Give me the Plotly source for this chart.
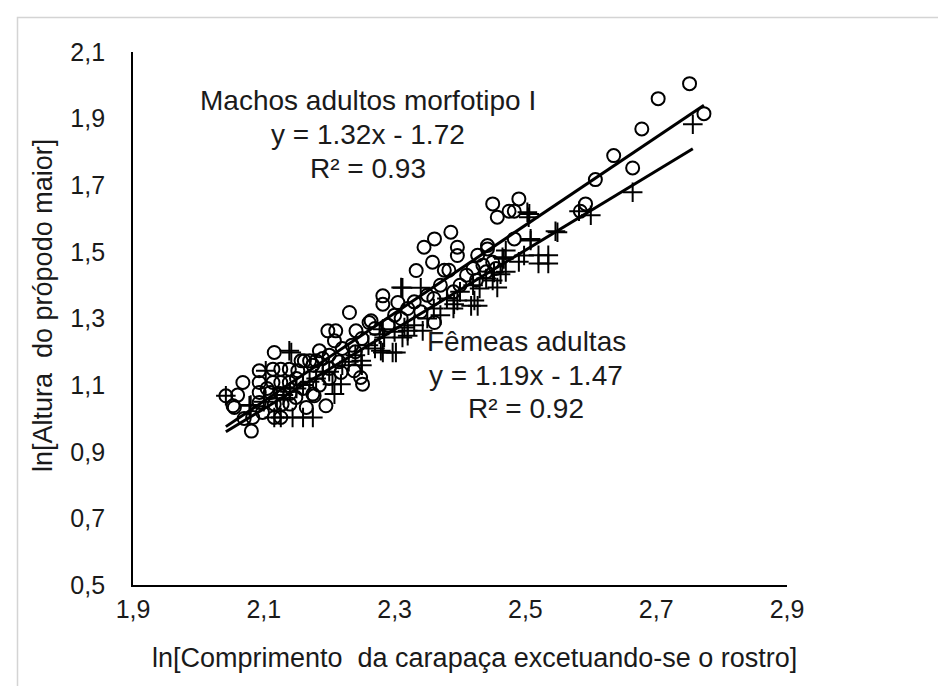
import plotly.graph_objects as go

# ---------------- data ----------------
machos_x = [2.751, 2.703, 2.773, 2.678, 2.635, 2.664, 2.607, 2.592, 2.584,
            2.450, 2.490, 2.457, 2.475, 2.483, 2.442, 2.450, 2.483, 2.386, 2.396, 2.396,
            2.442, 2.427, 2.361, 2.345, 2.358, 2.333, 2.376, 2.383, 2.282, 2.305,
            2.282, 2.361, 2.231, 2.198, 2.210, 2.208, 2.241, 2.261, 2.185, 2.162,
            2.264, 2.116,
            2.410, 2.420, 2.435, 2.400, 2.425, 2.440, 2.455, 2.370, 2.390, 2.350,
            2.330, 2.320, 2.300, 2.340, 2.360, 2.310, 2.290, 2.270, 2.250, 2.235,
            2.220, 2.200, 2.190, 2.215, 2.175, 2.240,
            2.042, 2.055, 2.081, 2.068, 2.093, 2.093, 2.093, 2.093, 2.098, 2.114,
            2.126, 2.139, 2.152, 2.114, 2.126, 2.139, 2.110, 2.125, 2.140, 2.116,
            2.128, 2.140, 2.116, 2.126, 2.157, 2.170, 2.180, 2.165, 2.175, 2.149,
            2.083, 2.251, 2.218, 2.195, 2.053, 2.177, 2.238, 2.248, 2.200, 2.185,
            2.160, 2.150, 2.200, 2.060, 2.070, 2.105]
machos_y = [2.005, 1.960, 1.915, 1.869, 1.789, 1.752, 1.717, 1.644, 1.622,
            1.644, 1.659, 1.604, 1.622, 1.622, 1.509, 1.469, 1.539, 1.559, 1.514, 1.489,
            1.519, 1.490, 1.539, 1.514, 1.469, 1.444, 1.445, 1.445, 1.368, 1.348,
            1.343, 1.288, 1.318, 1.263, 1.263, 1.233, 1.263, 1.288, 1.203, 1.173,
            1.293, 1.198,
            1.430, 1.450, 1.460, 1.400, 1.415, 1.440, 1.450, 1.400, 1.380, 1.370,
            1.350, 1.330, 1.310, 1.320, 1.360, 1.300, 1.280, 1.270, 1.240, 1.220,
            1.210, 1.190, 1.180, 1.170, 1.160, 1.200,
            1.068, 1.033, 0.962, 1.108, 1.143, 1.108, 1.078, 1.048, 1.018, 1.148,
            1.148, 1.148, 1.143, 1.108, 1.108, 1.108, 1.078, 1.075, 1.075, 1.043,
            1.043, 1.043, 1.003, 1.003, 1.173, 1.173, 1.173, 1.033, 1.073, 1.063,
            1.003, 1.103, 1.138, 1.038, 1.038, 1.068, 1.143, 1.123, 1.120, 1.100,
            1.090, 1.120, 1.150, 1.070, 1.000, 1.090]

femeas_x = [2.756, 2.664, 2.582, 2.546, 2.506, 2.508, 2.467, 2.520, 2.535, 2.520,
            2.535, 2.503, 2.505, 2.549, 2.508, 2.470, 2.498, 2.465, 2.450, 2.457,
            2.462, 2.452, 2.417, 2.427, 2.391, 2.396, 2.422, 2.312, 2.340, 2.310,
            2.282, 2.284, 2.282, 2.302, 2.312, 2.315, 2.320, 2.320, 2.343, 2.297,
            2.142, 2.103, 2.144, 2.160, 2.175, 2.042, 2.126, 2.116, 2.139, 2.205,
            2.208, 2.218, 2.279, 2.277, 2.249, 2.078,
            2.360, 2.380, 2.400, 2.420, 2.440, 2.370, 2.350, 2.330, 2.300, 2.260,
            2.240, 2.220, 2.200, 2.180, 2.160, 2.140, 2.120, 2.100, 2.080, 2.230,
            2.190, 2.170, 2.150, 2.130, 2.250, 2.270, 2.390, 2.430, 2.470, 2.490,
            2.600]
femeas_y = [1.883, 1.679, 1.622, 1.562, 1.614, 1.534, 1.479, 1.490, 1.490, 1.465,
            1.465, 1.619, 1.604, 1.559, 1.539, 1.504, 1.489, 1.484, 1.414, 1.393,
            1.433, 1.438, 1.338, 1.338, 1.343, 1.354, 1.354, 1.392, 1.392, 1.393,
            1.268, 1.243, 1.198, 1.198, 1.243, 1.273, 1.263, 1.248, 1.263, 1.198,
            1.198, 1.143, 1.003, 1.003, 1.003, 1.068, 1.003, 1.003, 1.203, 1.103,
            1.073, 1.103, 1.203, 1.253, 1.173, 1.038,
            1.330, 1.360, 1.380, 1.400, 1.420, 1.310, 1.300, 1.280, 1.260, 1.220,
            1.190, 1.160, 1.140, 1.120, 1.100, 1.080, 1.060, 1.050, 1.040, 1.170,
            1.140, 1.110, 1.090, 1.070, 1.160, 1.210, 1.330, 1.390, 1.440, 1.470,
            1.610]

# regression equations shown on the chart
machos_fit = (1.32, -1.72)
femeas_fit = (1.19, -1.47)

x_ticks = [1.9, 2.1, 2.3, 2.5, 2.7, 2.9]
x_ticktext = ["1,9", "2,1", "2,3", "2,5", "2,7", "2,9"]
y_ticks = [0.5, 0.7, 0.9, 1.1, 1.3, 1.5, 1.7, 1.9, 2.1]
y_ticktext = ["0,5", "0,7", "0,9", "1,1", "1,3", "1,5", "1,7", "1,9", "2,1"]

machos_label = ["Machos adultos morfotipo I", "y = 1.32x - 1.72", "R² = 0.93"]
femeas_label = ["Fêmeas adultas", "y = 1.19x - 1.47", "R² = 0.92"]
x_title = "ln[Comprimento\u00a0 da carapaça excetuando-se o rostro]"
y_title = "ln[Altura\u00a0 do própodo maior]"

# ---------------- figure ----------------
W, H = 946, 686
L, R, T, B = 125, 779, 44, 577
FONT = "Liberation Sans, Arial, sans-serif"
TXT = "#1a1a1a"


def px(xp):
    return (xp - L) / (R - L)


def py(yp):
    return (B - yp) / (B - T)


def fit_line(xs, coef):
    x0, x1 = min(xs), max(xs)
    return [x0, x1], [coef[0] * x0 + coef[1], coef[0] * x1 + coef[1]]


fig = go.Figure()
fig.add_trace(go.Scatter(
    x=femeas_x, y=femeas_y, mode="markers", name="Fêmeas adultas",
    marker=dict(symbol="cross-thin-open", size=14, color="black",
                line=dict(color="black", width=2))))
fig.add_trace(go.Scatter(
    x=machos_x, y=machos_y, mode="markers", name="Machos adultos morfotipo I",
    marker=dict(symbol="circle-open", size=13, color="black",
                line=dict(color="black", width=2))))
lx, ly = fit_line(machos_x, machos_fit)
fig.add_trace(go.Scatter(x=lx, y=ly, mode="lines", line=dict(color="black", width=3),
                         showlegend=False))
lx, ly = fit_line(femeas_x, femeas_fit)
fig.add_trace(go.Scatter(x=lx, y=ly, mode="lines", line=dict(color="black", width=3),
                         showlegend=False))

ann = []
for text, yp in zip(machos_label, [92, 127, 160]):
    ann.append(dict(x=px(360), y=py(yp), xref="paper", yref="paper", text=text,
                    showarrow=False, xanchor="center", yanchor="middle",
                    font=dict(size=28, color=TXT, family=FONT)))
for text, yp in zip(femeas_label, [333, 367, 400]):
    ann.append(dict(x=px(518), y=py(yp), xref="paper", yref="paper", text=text,
                    showarrow=False, xanchor="center", yanchor="middle",
                    font=dict(size=28, color=TXT, family=FONT)))
ann.append(dict(x=px(466), y=py(650), xref="paper", yref="paper", text=x_title,
                showarrow=False, xanchor="center", yanchor="middle",
                font=dict(size=27, color=TXT, family=FONT)))
ann.append(dict(x=px(35), y=py(298), xref="paper", yref="paper", text=y_title,
                showarrow=False, xanchor="center", yanchor="middle", textangle=-90,
                font=dict(size=27, color=TXT, family=FONT)))

fig.update_layout(
    width=W, height=H,
    margin=dict(l=L, r=W - R, t=T, b=H - B, pad=0),
    paper_bgcolor="white", plot_bgcolor="white",
    showlegend=False,
    annotations=ann,
    shapes=[dict(type="rect", xref="paper", yref="paper",
                 x0=px(9.5), y0=py(700), x1=px(960), y1=py(9.5),
                 line=dict(color="#d4d4d4", width=1.5), fillcolor="rgba(0,0,0,0)",
                 layer="below")],
    xaxis=dict(range=[1.9, 2.9], tickvals=x_ticks, ticktext=x_ticktext,
               showgrid=False, zeroline=False, showline=True, linecolor="black",
               linewidth=1.8, ticks="", ticklabelstandoff=1,
               tickfont=dict(size=25, color=TXT, family=FONT)),
    yaxis=dict(range=[0.5, 2.1], tickvals=y_ticks, ticktext=y_ticktext,
               showgrid=False, zeroline=False, showline=True, linecolor="black",
               linewidth=1.8, ticks="", ticklabelstandoff=21,
               tickfont=dict(size=25, color=TXT, family=FONT)),
)

fig.write_html("out.html")
